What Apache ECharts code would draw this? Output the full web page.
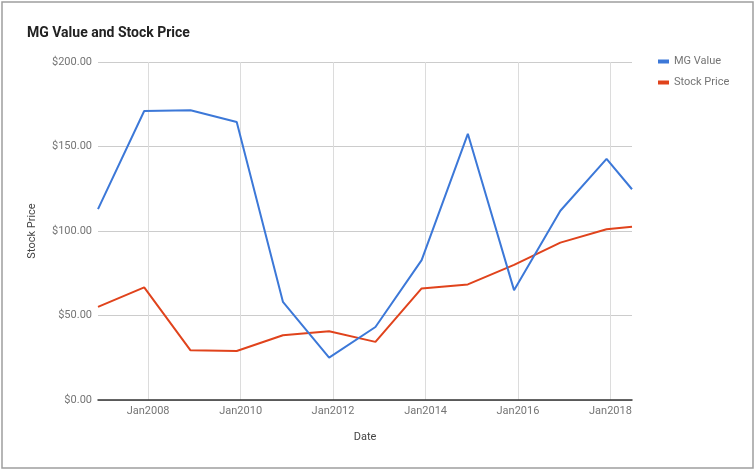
<!DOCTYPE html>
<html>
<head>
<meta charset="utf-8">
<script src="https://cdn.jsdelivr.net/npm/echarts@6/dist/echarts.min.js"></script>
<style>
html,body{margin:0;padding:0;background:#fff;}
#chart{width:756px;height:472px;}
</style>
</head>
<body>
<div id="chart"></div>
<script>
// ---- data ----
const dates = ['2006-12-01','2007-12-01','2008-12-01','2009-12-01','2010-12-01','2011-12-01','2012-12-01','2013-12-01','2014-12-01','2015-12-01','2016-12-01','2017-12-01','2018-06-20'];
const mgValue = [112.9, 171.0, 171.4, 164.5, 58.1, 25.1, 43.2, 82.8, 157.5, 65.0, 112.0, 142.7, 124.7];
const stockPrice = [55.1, 66.6, 29.4, 29.0, 38.3, 40.7, 34.4, 66.0, 68.4, 80.0, 93.1, 101.0, 102.5];
const xTickDates = ['2008-01-01','2010-01-01','2012-01-01','2014-01-01','2016-01-01','2018-01-01'];
const xTickLabels = ['Jan2008','Jan2010','Jan2012','Jan2014','Jan2016','Jan2018'];
const yTickValues = [0, 50, 100, 150, 200];
const yTickLabels = ['$0.00','$50.00','$100.00','$150.00','$200.00'];
const seriesNames = ['MG Value', 'Stock Price'];

const toTs = s => Date.parse(s + 'T00:00:00Z');
const xs = dates.map(toTs);
const xTicks = xTickDates.map(toTs);

const chart = echarts.init(document.getElementById('chart'), null, {renderer: 'canvas'});
const font = 'Roboto, Arial, sans-serif';

const option = {
  animation: false,
  color: ['#3c78d8', '#e0431c'],
  title: {
    text: 'MG Value and Stock Price',
    left: 22, top: 21,
    textStyle: {fontFamily: font, fontSize: 14, fontWeight: 'bold', color: '#222'}
  },
  legend: {
    orient: 'vertical',
    left: 653, top: 51,
    itemWidth: 11, itemHeight: 4, itemGap: 10,
    icon: 'rect',
    textStyle: {fontFamily: font, fontSize: 11, color: '#757575'},
    data: seriesNames
  },
  grid: {left: 98, right: 124, top: 62, bottom: 72, containLabel: false},
  xAxis: {
    type: 'value',
    min: xs[0], max: xs[xs.length - 1],
    name: 'Date', nameLocation: 'middle', nameGap: 32,
    nameTextStyle: {fontFamily: font, fontSize: 11, color: '#444'},
    axisLine: {show: true, lineStyle: {color: '#333', width: 1.5}},
    axisTick: {show: false, customValues: xTicks},
    axisLabel: {
      customValues: xTicks,
      margin: 6,
      fontFamily: font, fontSize: 11, color: '#757575',
      formatter: function (v) {
        const i = xTicks.indexOf(v);
        return i >= 0 ? xTickLabels[i] : '';
      }
    },
    splitLine: {show: true, lineStyle: {color: '#dcdcdc', width: 1}}
  },
  yAxis: {
    type: 'value',
    min: yTickValues[0], max: yTickValues[yTickValues.length - 1], interval: 50,
    name: 'Stock Price', nameLocation: 'middle', nameGap: 60,
    nameTextStyle: {fontFamily: font, fontSize: 11, color: '#444'},
    axisLine: {show: false},
    axisTick: {show: false},
    axisLabel: {
      margin: 6,
      fontFamily: font, fontSize: 11, color: '#757575',
      formatter: function (v) {
        const i = yTickValues.indexOf(v);
        return i >= 0 ? yTickLabels[i] : '';
      }
    },
    splitLine: {show: true, lineStyle: {color: '#cccccc', width: 1}}
  },
  series: [
    {
      name: seriesNames[0], type: 'line', showSymbol: false, z: 3,
      lineStyle: {width: 2},
      data: xs.map((x, i) => [x, mgValue[i]])
    },
    {
      name: seriesNames[1], type: 'line', showSymbol: false, z: 2,
      lineStyle: {width: 2},
      data: xs.map((x, i) => [x, stockPrice[i]])
    }
  ],
  graphic: [
    {
      type: 'rect', silent: true,
      shape: {x: 2, y: 2, width: 751, height: 466},
      style: {fill: 'none', stroke: '#9e9e9e', lineWidth: 1.5}
    }
  ]
};
chart.setOption(option);
</script>
</body>
</html>
